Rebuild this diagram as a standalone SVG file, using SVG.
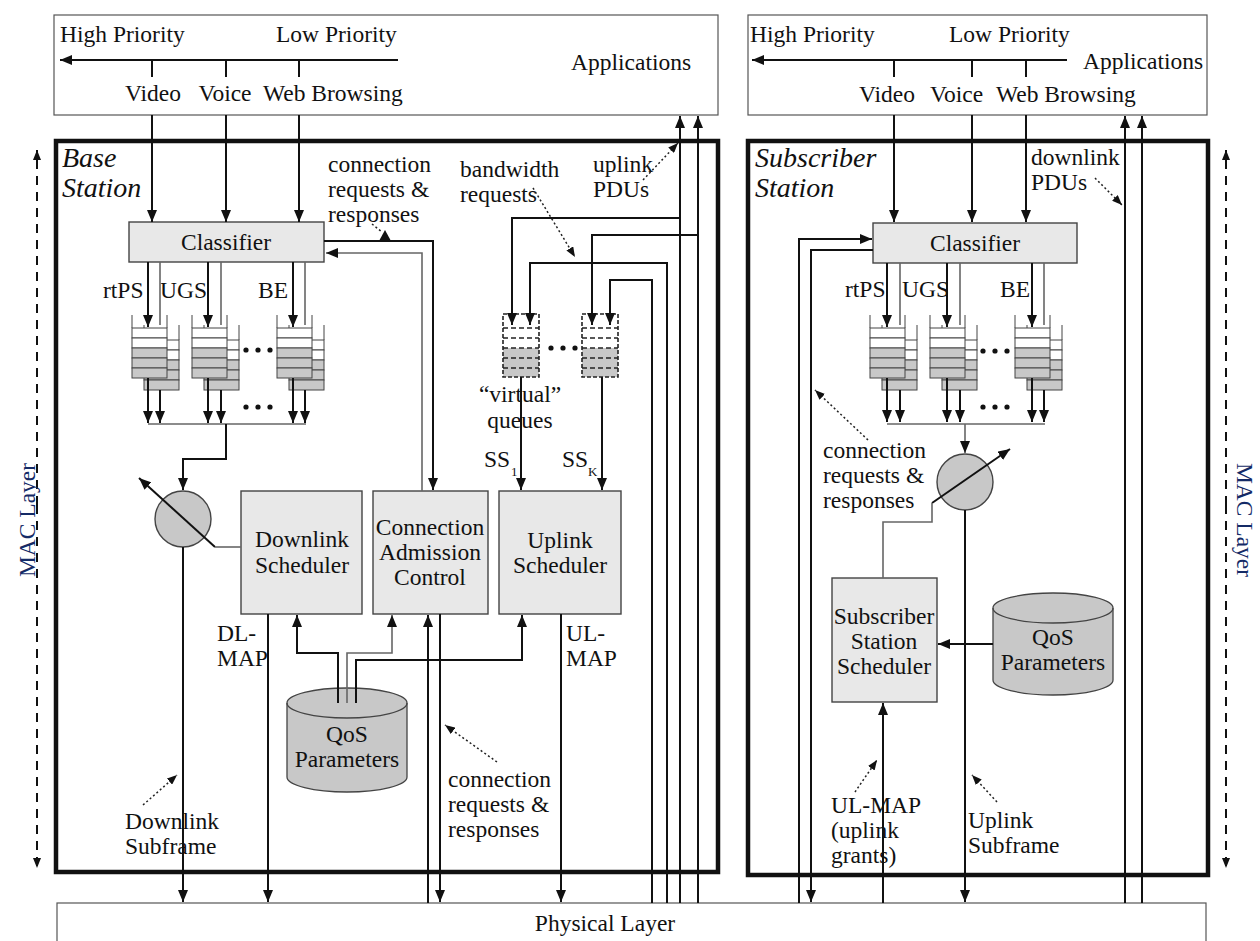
<svg xmlns="http://www.w3.org/2000/svg" xmlns:xlink="http://www.w3.org/1999/xlink" width="1260" height="941" viewBox="0 0 1260 941">
<style>
text{font-family:"Liberation Serif","Times New Roman","DejaVu Serif","Noto Serif",serif;font-size:23.5px;fill:#111}
.it{font-style:italic;font-size:28px}
.mid{text-anchor:middle}
.ln{fill:none;stroke:#111;stroke-width:2}
.gl{fill:none;stroke:#666;stroke-width:1.6}
.box{fill:#fff;stroke:#555;stroke-width:1.2}
.blk{fill:#e8e8e8;stroke:#444;stroke-width:1.4}
.thick{fill:none;stroke:#111;stroke-width:4.5}
.dot{fill:none;stroke:#222;stroke-width:1.5;stroke-dasharray:2 2.5}
.mac{fill:none;stroke:#111;stroke-width:2;stroke-dasharray:9 7}
.cyl{fill:#c8c8c8;stroke:#444;stroke-width:1.3}
.cw{fill:#fff;stroke:#444;stroke-width:1}
.cg{fill:#c8c8c8;stroke:#444;stroke-width:1}
.blue{fill:#142a66}
</style>
<defs>
<marker id="a" viewBox="0 0 12 10" refX="12" refY="5" markerWidth="12" markerHeight="10" markerUnits="userSpaceOnUse" orient="auto"><path d="M0,0L12,5L0,10z" fill="#111"/></marker>
<marker id="s" viewBox="0 0 10 8" refX="10" refY="4" markerWidth="10" markerHeight="8" markerUnits="userSpaceOnUse" orient="auto"><path d="M0,0L10,4L0,8z" fill="#111"/></marker>
<marker id="m" viewBox="0 0 10 8" refX="10" refY="4" markerWidth="10" markerHeight="8" markerUnits="userSpaceOnUse" orient="auto"><path d="M0,0L10,4L0,8z" fill="#111"/></marker>
<g id="q">
<path d="M12,-3V12M47,-3V12" stroke="#444" stroke-width="1"/>
<rect class="cw" x="12" y="12" width="35" height="10"/><rect class="cw" x="12" y="22" width="35" height="10"/>
<rect class="cg" x="12" y="32" width="35" height="10"/><rect class="cg" x="12" y="42" width="35" height="10"/><rect class="cg" x="12" y="52" width="35" height="10"/>
<path d="M0,-13V0M35,-13V0" stroke="#444" stroke-width="1"/>
<rect class="cw" x="0" y="0" width="35" height="10"/><rect class="cw" x="0" y="10" width="35" height="10"/>
<rect class="cg" x="0" y="20" width="35" height="10"/><rect class="cg" x="0" y="30" width="35" height="10"/><rect class="cg" x="0" y="40" width="35" height="10"/>
</g>
<g id="vq">
<rect x="0" y="0" width="36" height="34" fill="#fff"/>
<rect x="0" y="34" width="36" height="29" fill="#c8c8c8"/>
<path d="M0,14H36M0,24H36M0,34H36M0,44H36M0,54H36" stroke="#222" stroke-width="1.3" stroke-dasharray="5 3"/>
<rect x="0" y="0" width="36" height="63" fill="none" stroke="#222" stroke-width="1.6" stroke-dasharray="4 2"/>
</g>
<g id="dots"><circle cx="0" cy="0" r="2.6" fill="#111"/><circle cx="12" cy="0" r="2.6" fill="#111"/><circle cx="24" cy="0" r="2.6" fill="#111"/></g>
</defs>
<rect width="1260" height="941" fill="#fff"/>

<!-- Base station side -->
<g id="bs-apps">
<rect class="box" x="54" y="15" width="664" height="100"/>
<text x="60" y="42">High Priority</text>
<text x="276" y="42">Low Priority</text>
<text x="571" y="70">Applications</text>
<text class="mid" x="153" y="101">Video</text>
<text class="mid" x="225" y="101">Voice</text>
<text x="263" y="101">Web Browsing</text>
</g>
<g id="base-station">
<rect class="thick" x="56" y="141" width="662" height="731"/>
<text class="it" x="62" y="167">Base</text>
<text class="it" x="62" y="197">Station</text>
</g>
<g id="bs-classifier"><rect class="blk" x="129" y="222" width="195" height="40"/><text class="mid" x="226" y="250">Classifier</text></g>
<g id="bs-queues">
<use xlink:href="#q" x="132" y="328"/><use xlink:href="#q" x="192" y="328"/><use xlink:href="#q" x="277" y="328"/>
<use xlink:href="#dots" x="246" y="350"/><use xlink:href="#dots" x="246" y="407"/>
<text x="103" y="298">rtPS</text><text x="160" y="298">UGS</text><text x="258" y="298">BE</text>
</g>
<g id="bs-virtual-queues">
<use xlink:href="#vq" x="503" y="314"/><use xlink:href="#vq" x="582" y="314"/>
<use xlink:href="#dots" x="551" y="348"/>
<text class="mid" x="520" y="402">“virtual”</text>
<text class="mid" x="520" y="428">queues</text>
</g>
<g id="bs-mux"><circle cx="183" cy="519" r="28" fill="#c8c8c8" stroke="#444" stroke-width="1.4"/></g>
<g id="dl-sched"><rect class="blk" x="241" y="491" width="121" height="123"/><text class="mid" x="302" y="547">Downlink</text><text class="mid" x="302" y="573">Scheduler</text></g>
<g id="cac"><rect class="blk" x="373" y="491" width="115" height="123"/><text class="mid" x="430" y="535">Connection</text><text class="mid" x="430" y="560">Admission</text><text class="mid" x="430" y="585">Control</text></g>
<g id="ul-sched"><rect class="blk" x="499" y="491" width="122" height="123"/><text class="mid" x="560" y="548">Uplink</text><text class="mid" x="560" y="573">Scheduler</text></g>
<g id="bs-qos">
<path class="cyl" d="M287,703V777A60,15 0 0 0 407,777V703A60,15 0 0 0 287,703Z"/>
<path d="M287,703A60,15 0 0 0 407,703" fill="none" stroke="#444" stroke-width="1.3"/>
<text class="mid" x="347" y="742">QoS</text><text class="mid" x="347" y="767">Parameters</text>
</g>

<!-- Subscriber station side -->
<g id="ss-apps">
<rect class="box" x="748" y="15" width="459" height="100"/>
<text x="750" y="42">High Priority</text>
<text x="949" y="42">Low Priority</text>
<text x="1083" y="69">Applications</text>
<text class="mid" x="887" y="102">Video</text>
<text x="930" y="102">Voice</text>
<text x="996" y="102">Web Browsing</text>
</g>
<g id="subscriber-station">
<rect class="thick" x="748" y="141" width="460" height="734"/>
<text class="it" x="755" y="167">Subscriber</text>
<text class="it" x="755" y="197">Station</text>
</g>
<g id="ss-classifier"><rect class="blk" x="873" y="223" width="204" height="40"/><text class="mid" x="975" y="251">Classifier</text></g>
<g id="ss-queues">
<use xlink:href="#q" x="870" y="328"/><use xlink:href="#q" x="930" y="328"/><use xlink:href="#q" x="1015" y="328"/>
<use xlink:href="#dots" x="983" y="351"/><use xlink:href="#dots" x="983" y="407"/>
<text x="845" y="297">rtPS</text><text x="902" y="297">UGS</text><text x="1000" y="297">BE</text>
</g>
<g id="ss-mux"><circle cx="965" cy="482" r="28" fill="#c8c8c8" stroke="#444" stroke-width="1.4"/></g>
<g id="ss-sched"><rect class="blk" x="832" y="578" width="105" height="124"/><text class="mid" x="884" y="624">Subscriber</text><text class="mid" x="884" y="649">Station</text><text class="mid" x="884" y="674">Scheduler</text></g>
<g id="ss-qos">
<path class="cyl" d="M993,608V680A60,15 0 0 0 1113,680V608A60,15 0 0 0 993,608Z"/>
<path d="M993,608A60,15 0 0 0 1113,608" fill="none" stroke="#444" stroke-width="1.3"/>
<text class="mid" x="1053" y="645">QoS</text><text class="mid" x="1053" y="670">Parameters</text>
</g>

<g id="physical-layer"><rect class="box" x="57" y="903" width="1149" height="60"/><text class="mid" x="605" y="931">Physical Layer</text></g>

<g id="connectors">
<path class="ln" d="M398,60H60" marker-end="url(#a)"/>
<path class="ln" d="M152,60V77M226,60V77M299,60V77"/>
<path class="ln" d="M152,115V222" marker-end="url(#a)"/>
<path class="ln" d="M226,115V222" marker-end="url(#a)"/>
<path class="ln" d="M299,115V222" marker-end="url(#a)"/>
<path class="ln" d="M324,241H433V490" marker-end="url(#a)"/>
<path class="gl" d="M422,491V253H326" marker-end="url(#a)"/>
<path class="ln" d="M148,262V327" marker-end="url(#a)"/>
<path class="ln" d="M208,262V327" marker-end="url(#a)"/>
<path class="ln" d="M293,262V327" marker-end="url(#a)"/>
<path class="gl" d="M160,262V325M221,262V325M305,262V325"/>
<path class="ln" d="M148,378V423" marker-end="url(#a)"/>
<path class="ln" d="M160,390V423" marker-end="url(#a)"/>
<path class="ln" d="M208,378V423" marker-end="url(#a)"/>
<path class="ln" d="M221,390V423" marker-end="url(#a)"/>
<path class="ln" d="M293,378V423" marker-end="url(#a)"/>
<path class="ln" d="M305,390V423" marker-end="url(#a)"/>
<path class="gl" d="M148,424H306"/>
<path class="ln" d="M226,424V459H183V490" marker-end="url(#a)"/>
<path class="ln" d="M215,547L139,478" marker-end="url(#a)"/>
<path class="gl" d="M215,547H241"/>
<path class="ln" d="M183,547V902" marker-end="url(#a)"/>
<path class="ln" d="M268,614V902" marker-end="url(#a)"/>
<path class="ln" d="M428,903V615" marker-end="url(#a)"/>
<path class="ln" d="M440,614V902" marker-end="url(#a)"/>
<path class="ln" d="M561,614V902" marker-end="url(#a)"/>
<path class="ln" d="M338,703V653H297V615" marker-end="url(#a)"/>
<path class="gl" d="M347,703V653H392V615" marker-end="url(#a)"/>
<path class="ln" d="M356,703V660H522V615" marker-end="url(#a)"/>
<path class="ln" d="M680,903V116" marker-end="url(#a)"/>
<path class="ln" d="M698,903V116" marker-end="url(#a)"/>
<path class="ln" d="M680,218H512V325" marker-end="url(#a)"/>
<path class="ln" d="M698,235H592V325" marker-end="url(#a)"/>
<path class="ln" d="M667,903V263H530V325" marker-end="url(#a)"/>
<path class="ln" d="M652,903V280H610V325" marker-end="url(#a)"/>
<path class="ln" d="M521,377V490" marker-end="url(#a)"/>
<path class="ln" d="M602,377V490" marker-end="url(#a)"/>

<path class="ln" d="M1067,60H752" marker-end="url(#a)"/>
<path class="ln" d="M894,60V77M972,60V77M1026,60V77"/>
<path class="ln" d="M894,115V222" marker-end="url(#a)"/>
<path class="ln" d="M972,115V222" marker-end="url(#a)"/>
<path class="ln" d="M1026,115V222" marker-end="url(#a)"/>
<path class="ln" d="M1125,903V116" marker-end="url(#a)"/>
<path class="ln" d="M1142,903V116" marker-end="url(#a)"/>
<path class="ln" d="M799,903V239H872" marker-end="url(#a)"/>
<path class="ln" d="M873,250H811V902" marker-end="url(#a)"/>
<path class="ln" d="M887,263V327" marker-end="url(#a)"/>
<path class="ln" d="M947,263V327" marker-end="url(#a)"/>
<path class="ln" d="M1032,263V327" marker-end="url(#a)"/>
<path class="gl" d="M900,263V325M960,263V325M1044,263V325"/>
<path class="ln" d="M887,378V422" marker-end="url(#a)"/>
<path class="ln" d="M900,390V422" marker-end="url(#a)"/>
<path class="ln" d="M947,378V422" marker-end="url(#a)"/>
<path class="ln" d="M960,390V422" marker-end="url(#a)"/>
<path class="ln" d="M1032,378V422" marker-end="url(#a)"/>
<path class="ln" d="M1044,390V422" marker-end="url(#a)"/>
<path class="gl" d="M887,424H1045"/>
<path class="gl" d="M965,424V453" marker-end="url(#a)"/>
<path class="ln" d="M932,503L1010,449" marker-end="url(#a)"/>
<path class="gl" d="M932,503V522H883V578"/>
<path class="ln" d="M965,510V902" marker-end="url(#a)"/>
<path class="ln" d="M993,644H938" marker-end="url(#a)"/>
<path class="ln" d="M883,903V703" marker-end="url(#a)"/>

<path class="dot" d="M372,224L382,232"/>
<path d="M379,241L391,241L385,230Z" fill="#111"/>
<path class="dot" d="M533,188L575,257" marker-end="url(#s)"/>
<path class="dot" d="M643,180L678,143" marker-end="url(#s)"/>
<path class="dot" d="M497,762L445,725" marker-end="url(#s)"/>
<path class="dot" d="M143,805L177,775" marker-end="url(#s)"/>
<path class="dot" d="M1095,178L1122,205" marker-end="url(#s)"/>
<path class="dot" d="M868,440L815,390" marker-end="url(#s)"/>
<path class="dot" d="M855,792L877,760" marker-end="url(#s)"/>
<path class="dot" d="M997,802L972,775" marker-end="url(#s)"/>

<path class="mac" d="M37,505V150" marker-end="url(#m)"/>
<path class="mac" d="M37,505V868" marker-end="url(#m)"/>
<path class="mac" d="M1226,505V150" marker-end="url(#m)"/>
<path class="mac" d="M1226,505V868" marker-end="url(#m)"/>
</g>

<g id="labels">
<text x="328" y="172">connection</text>
<text x="328" y="197">requests &amp;</text>
<text x="328" y="222">responses</text>
<text x="460" y="177">bandwidth</text>
<text x="460" y="202">requests</text>
<text x="593" y="172">uplink</text>
<text x="593" y="197">PDUs</text>
<text x="484" y="467">SS</text><text x="511" y="476" style="font-size:13px">1</text>
<text x="562" y="467">SS</text><text x="588" y="476" style="font-size:13px">K</text>
<text x="217" y="641">DL-</text><text x="217" y="666">MAP</text>
<text x="566" y="641">UL-</text><text x="566" y="666">MAP</text>
<text x="125" y="829">Downlink</text><text x="125" y="854">Subframe</text>
<text x="448" y="787">connection</text><text x="448" y="812">requests &amp;</text><text x="448" y="837">responses</text>
<text x="1031" y="165">downlink</text><text x="1031" y="190">PDUs</text>
<text x="823" y="458">connection</text><text x="823" y="483">requests &amp;</text><text x="823" y="508">responses</text>
<text x="831" y="813">UL-MAP</text><text x="831" y="838">(uplink</text><text x="831" y="863">grants)</text>
<text x="968" y="828">Uplink</text><text x="968" y="853">Subframe</text>
<text class="mid blue" transform="translate(35,520) rotate(-90)">MAC Layer</text>
<text class="mid blue" transform="translate(1237,520) rotate(90)">MAC Layer</text>
</g>
</svg>
